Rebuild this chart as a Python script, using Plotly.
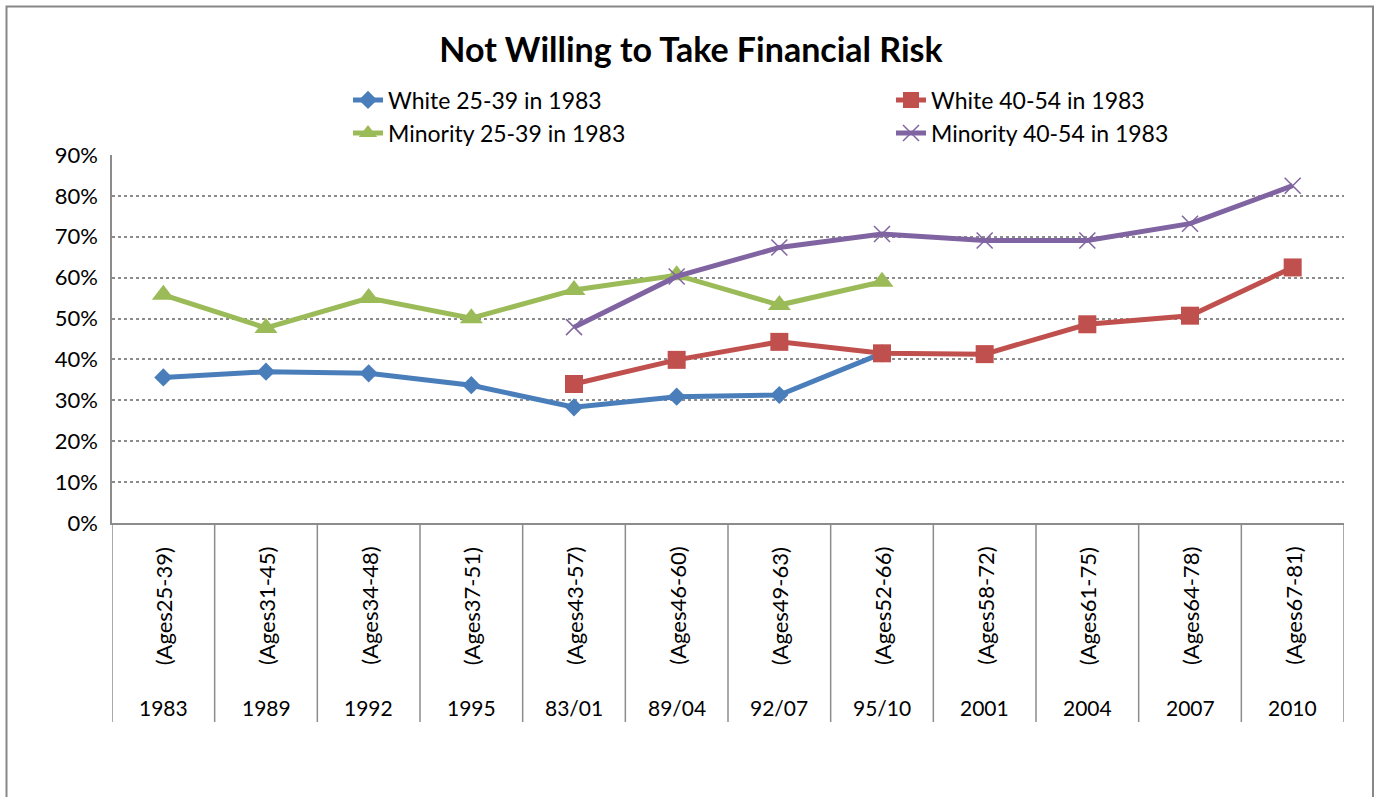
import plotly.graph_objects as go

years = ["1983", "1989", "1992", "1995", "83/01", "89/04", "92/07", "95/10", "2001", "2004", "2007", "2010"]
ages = ["(Ages25-39)", "(Ages31-45)", "(Ages34-48)", "(Ages37-51)", "(Ages43-57)", "(Ages46-60)",
        "(Ages49-63)", "(Ages52-66)", "(Ages58-72)", "(Ages61-75)", "(Ages64-78)", "(Ages67-81)"]

white_25_39 = [0.356, 0.370, 0.366, 0.337, 0.283, 0.309, 0.313, 0.415, None, None, None, None]
white_40_54 = [None, None, None, None, 0.340, 0.399, 0.443, 0.415, 0.413, 0.486, 0.507, 0.625]
minority_25_39 = [0.558, 0.477, 0.550, 0.501, 0.570, 0.606, 0.533, 0.590, None, None, None, None]
minority_40_54 = [None, None, None, None, 0.479, 0.603, 0.674, 0.707, 0.691, 0.691, 0.732, 0.825]

FONT = "Lato"
W, H = 1382, 797
L, R, T, B = 112, 1344, 155, 523
pw, ph = R - L, B - T

def py(pix):
    return (B - pix) / ph

def px(pix):
    return (pix - L) / pw

x = list(range(len(years)))

fig = go.Figure()
fig.add_trace(go.Scatter(x=x, y=white_25_39, name="White 25-39 in 1983", mode="lines+markers",
                         line=dict(color="#4A7EBB", width=5),
                         marker=dict(symbol="diamond", size=14, color="#4A7EBB"), legend="legend"))
fig.add_trace(go.Scatter(x=x, y=white_40_54, name="White 40-54 in 1983", mode="lines+markers",
                         line=dict(color="#C0504D", width=5),
                         marker=dict(symbol="square", size=18, color="#C0504D"), legend="legend2"))
fig.add_trace(go.Scatter(x=x, y=minority_25_39, name="Minority 25-39 in 1983", mode="lines+markers",
                         line=dict(color="#9BBB59", width=5),
                         marker=dict(symbol="triangle-up", size=20, color="#9BBB59"), legend="legend3"))
fig.add_trace(go.Scatter(x=x, y=minority_40_54, name="Minority 40-54 in 1983", mode="lines+markers",
                         line=dict(color="#8064A2", width=5),
                         marker=dict(symbol="x-thin", size=16, color="#8064A2",
                                     line=dict(color="#8064A2", width=1.5)), legend="legend4"))

shapes = []
# category dividers
for i in range(len(years) + 1):
    shapes.append(dict(type="line", xref="x", yref="paper", x0=i - 0.5, x1=i - 0.5,
                       y0=py(523), y1=py(722), line=dict(color="#8C8C8C", width=1.5)))
# chart frame
shapes.append(dict(type="rect", xref="paper", yref="paper", x0=px(6.5), x1=px(1373),
                   y0=py(805), y1=py(6.5), line=dict(color="#878787", width=2)))

annotations = []
for i in range(len(years)):
    annotations.append(dict(x=i, y=py(606), xref="x", yref="paper", text=ages[i], textangle=-90,
                            showarrow=False, font=dict(family=FONT, size=22, color="#000000"),
                            xanchor="center", yanchor="middle"))
    annotations.append(dict(x=i, y=py(707), xref="x", yref="paper", text=years[i],
                            showarrow=False, font=dict(family=FONT, size=21, color="#000000"),
                            xanchor="center", yanchor="middle"))

legend_common = dict(orientation="h", xref="paper", yref="paper", xanchor="left", yanchor="middle",
                     font=dict(family=FONT, size=23, color="#000000"), bgcolor="rgba(0,0,0,0)",
                     itemwidth=30)

fig.update_layout(
    width=W, height=H,
    margin=dict(l=L, r=W - R, t=T, b=H - B),
    paper_bgcolor="white", plot_bgcolor="white",
    title=dict(text="<b>Not Willing to Take Financial Risk</b>", x=0.5, xref="container", xanchor="center",
               y=1 - 50 / H, yref="container", yanchor="middle",
               font=dict(family=FONT, size=34, color="#000000")),
    showlegend=True,
    legend=dict(x=px(348), y=py(100), **legend_common),
    legend2=dict(x=px(891), y=py(100), **legend_common),
    legend3=dict(x=px(348), y=py(133), **legend_common),
    legend4=dict(x=px(891), y=py(133), **legend_common),
    xaxis=dict(range=[-0.5, len(years) - 0.5], showticklabels=False, showgrid=False, zeroline=False,
               showline=True, linecolor="#8C8C8C", linewidth=1.5, ticks="", fixedrange=True),
    yaxis=dict(range=[0, 0.9], dtick=0.1, tick0=0, tickformat=".0%", showgrid=True, gridcolor="#8C8C8C",
               griddash="dot", gridwidth=1.5, zeroline=False, showline=True, linecolor="#8C8C8C",
               linewidth=1.5, ticks="", ticklabelstandoff=8,
               tickfont=dict(family=FONT, size=22, color="#000000")),
    shapes=shapes, annotations=annotations,
)

fig.write_html("out.html", config={"displayModeBar": False},
               post_script="document.body.style.margin='0';document.body.style.overflow='hidden';")
